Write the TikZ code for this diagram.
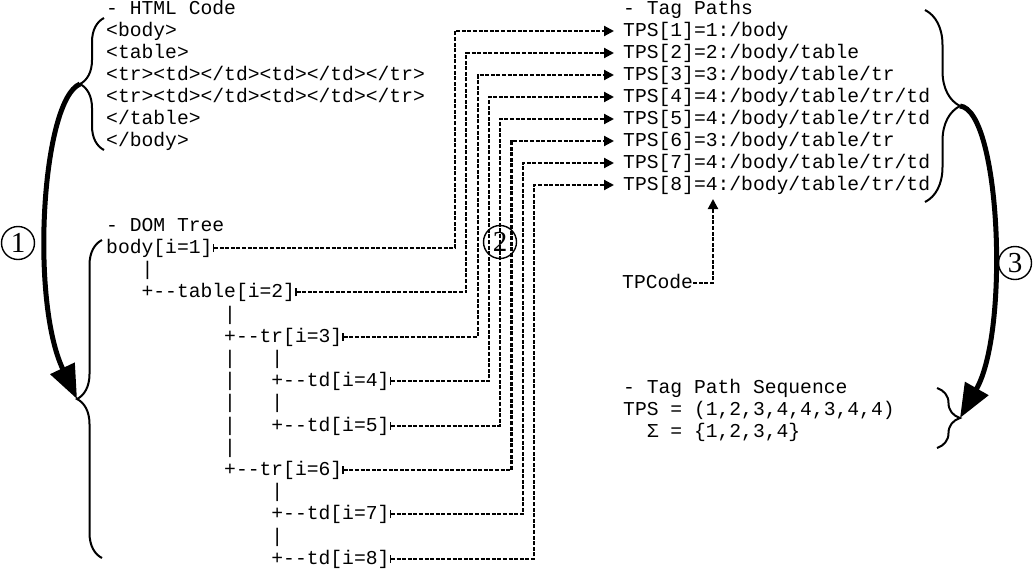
\documentclass[tikz,border=0pt]{standalone}
\usepackage{fontspec}
\setmonofont{Liberation Mono}
\newfontfamily\timesf{Liberation Serif}
\usetikzlibrary{arrows.meta,decorations.pathreplacing}
\begin{document}
\begin{tikzpicture}[x=1pt,y=-1pt,
  txt/.style={font=\ttfamily\fontsize{19.67}{22}\selectfont, inner sep=0pt, anchor=west, text height=14pt, text depth=3pt},
  conn/.style={line width=2.1pt, dash pattern=on 4pt off 1.6pt, {Bar[width=8pt,line width=1.8pt]}-{Triangle[length=10pt,width=10pt]}, shorten >=9pt},
  conntp/.style={line width=2.1pt, dash pattern=on 4pt off 1.6pt, -{Triangle[length=10pt,width=10pt]}},
  bracestyle/.style={line width=2pt, decorate, decoration={brace, amplitude=#1}},
  bigarrow/.style={line width=5pt, -{Triangle[length=34pt,width=26pt]}},
  num/.style={circle, draw, line width=1.4pt, minimum size=33pt, inner sep=0pt, font=\timesf\fontsize{29}{29}\selectfont}]
\useasboundingbox (0,0) rectangle (1036,568);
\fill[white] (0,0) rectangle (1036,568);

% HTML code
\foreach \l/\t/\n in {0/{- HTML Code}/h0, 1/{<body>}/h1, 2/{<table>}/h2, 3/{<tr><td></td><td></td></tr>}/h3, 4/{<tr><td></td><td></td></tr>}/h4, 5/{</table>}/h5, 6/{</body>}/h6}
  \node[txt, name=\n] at (106,{9+22*\l}) {\t};

% DOM tree
\node[txt] (domh) at (106,226) {- DOM Tree};
\foreach \c/\l/\t/\n in {0/0/{body[i=1]}/d1, 3/1/{|}/p1, 3/2/{+--table[i=2]}/d2, 10/3/{|}/p2,
  10/4/{+--tr[i=3]}/d3, 10/5/{|}/p3, 14/5/{|}/p4, 10/6/{|}/p5, 14/6/{+--td[i=4]}/d4,
  10/7/{|}/p6, 14/7/{|}/p7, 10/8/{|}/p8, 14/8/{+--td[i=5]}/d5, 10/9/{|}/p9,
  10/10/{+--tr[i=6]}/d6, 14/11/{|}/p10, 14/12/{+--td[i=7]}/d7, 14/13/{|}/p11, 14/14/{+--td[i=8]}/d8}
  \node[txt, name=\n] at ({106+\c*11.8},{248+22.2*\l}) {\t};

% Tag paths
\node[txt] (tph) at (623,9) {- Tag Paths};
\foreach \k/\t in {1/{1:/body}, 2/{2:/body/table}, 3/{3:/body/table/tr}, 4/{4:/body/table/tr/td},
  5/{4:/body/table/tr/td}, 6/{3:/body/table/tr}, 7/{4:/body/table/tr/td}, 8/{4:/body/table/tr/td}}
  \node[txt, name=t\k] at (623,{31+22*(\k-1)}) {TPS[\k]=\t};

% TPCode
\node[txt] (tpcode) at (622,283) {TPCode};
\coordinate (tpc) at (713,199);
\draw[conntp] (tpcode.east) -| (tpc);

% Tag path sequence
\node[txt] (s0) at (623,388) {- Tag Path Sequence};
\node[txt] (s1) at (623,410) {TPS = (1,2,3,4,4,3,4,4)};
\node[txt] (s2) at (623,432) {\ \ Σ = \{1,2,3,4\}};

% connectors
\foreach \k in {1,...,8}
  \coordinate (v\k) at ({455+11.3*(\k-1)},0);
\foreach \k in {1,...,8}
  \draw[conn] (d\k.east) -| (v\k |- t\k.west) -- (t\k.west);

% braces
\draw[bracestyle=24pt] (104,150) -- (104,18);
\draw[bracestyle=25pt] (102,558) -- (102,240);
\draw[bracestyle=35pt] (925,10) -- (925,202);
\draw[bracestyle=23pt] (937,388) -- (937,448);

\coordinate (b1) at (80,84);
\coordinate (b2) at (77,399);
\coordinate (b3) at (960,106);
\coordinate (b4) at (960,418);

\draw[bigarrow] (b1) .. controls (42,100) and (30,300) .. (b2);
\draw[bigarrow] (b3) .. controls (1000,110) and (1010,330) .. (b4);

% numbered circles
\node[num] (n1) at (18,243) {1};
\node[num] (n2) at (500,242) {2};
\node[num] (n3) at (1015,263) {3};
\end{tikzpicture}
\end{document}
